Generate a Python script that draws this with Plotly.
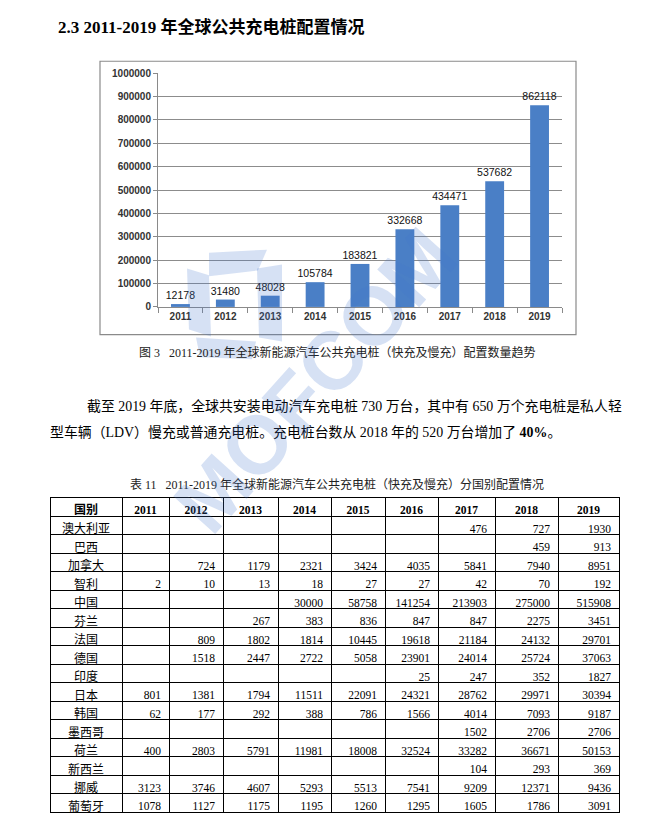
import plotly.graph_objects as go

# ---------------- data ----------------
years = ["2011", "2012", "2013", "2014", "2015", "2016", "2017", "2018", "2019"]
totals = [12178, 31480, 48028, 105784, 183821, 332668, 434471, 537682, 862118]
y_ticks = [0, 100000, 200000, 300000, 400000, 500000, 600000, 700000, 800000, 900000, 1000000]

table_header = ["国别", "2011", "2012", "2013", "2014", "2015", "2016", "2017", "2018", "2019"]
countries = ["澳大利亚", "巴西", "加拿大", "智利", "中国", "芬兰", "法国", "德国",
             "印度", "日本", "韩国", "墨西哥", "荷兰", "新西兰", "挪威", "葡萄牙"]
c2011 = [None, None, None, 2, None, None, None, None, None, 801, 62, None, 400, None, 3123, 1078]
c2012 = [None, None, 724, 10, None, None, 809, 1518, None, 1381, 177, None, 2803, None, 3746, 1127]
c2013 = [None, None, 1179, 13, None, 267, 1802, 2447, None, 1794, 292, None, 5791, None, 4607, 1175]
c2014 = [None, None, 2321, 18, 30000, 383, 1814, 2722, None, 11511, 388, None, 11981, None, 5293, 1195]
c2015 = [None, None, 3424, 27, 58758, 836, 10445, 5058, None, 22091, 786, None, 18008, None, 5513, 1260]
c2016 = [None, None, 4035, 27, 141254, 847, 19618, 23901, 25, 24321, 1566, None, 32524, None, 7541, 1295]
c2017 = [476, None, 5841, 42, 213903, 847, 21184, 24014, 247, 28762, 4014, 1502, 33282, 104, 9209, 1605]
c2018 = [727, 459, 7940, 70, 275000, 2275, 24132, 25724, 352, 29971, 7093, 2706, 36671, 293, 12371, 1786]
c2019 = [1930, 913, 8951, 192, 515908, 3451, 29701, 37063, 1827, 30394, 9187, 2706, 50153, 369, 9436, 3091]

heading = "2.3 2011-2019 年全球公共充电桩配置情况"
fig_caption = "图 3\u00a0\u00a0 2011-2019 年全球新能源汽车公共充电桩（快充及慢充）配置数量趋势"
para_line1 = "截至 2019 年底，全球共安装电动汽车充电桩 730 万台，其中有 650 万个充电桩是私人轻"
para_line2 = "型车辆（LDV）慢充或普通充电桩。充电桩台数从 2018 年的 520 万台增加了 <b>40%</b>。"
table_caption = "表 11\u00a0\u00a0 2011-2019 年全球新能源汽车公共充电桩（快充及慢充）分国别配置情况"
watermark = "MOFCOM"

# ---------------- figure ----------------
W, H = 672, 822


def px(x):
    return x / W


def py(y):
    return 1 - y / H


SERIF = "Liberation Serif, Noto Sans CJK SC"
SANS = "Liberation Sans, Noto Sans CJK SC"
WM = "rgba(70,120,205,0.22)"

fig = go.Figure()

fig.add_trace(go.Bar(
    x=years, y=totals, width=0.42,
    marker=dict(color="#4A7FC6", line=dict(width=0)),
    text=[str(v) for v in totals], textposition="outside", constraintext="none",
    textfont=dict(family=SANS, size=10.5, color="#111111"),
    cliponaxis=False, showlegend=False, hoverinfo="skip",
))


def fmt(col):
    return ["" if v is None else str(v) for v in col]


cols = [c2011, c2012, c2013, c2014, c2015, c2016, c2017, c2018, c2019]
fig.add_trace(go.Table(
    domain=dict(x=[px(50), px(619)], y=[py(822), py(498)]),
    columnwidth=[72, 47, 54, 55, 53, 54, 53, 57, 63, 61],
    header=dict(
        values=table_header,
        height=19, align="center",
        line=dict(color="black", width=1), fill=dict(color="white"),
        font=dict(family=SERIF, size=[12] + [11.5] * 9, color="black", weight="bold"),
    ),
    cells=dict(
        values=[countries] + [fmt(c) for c in cols],
        height=18.5, align=["center"] + ["right"] * 9,
        line=dict(color="black", width=1), fill=dict(color="white"),
        font=dict(family=SERIF, size=[12] + [11.5] * 9, color="black"),
    ),
))

annotations = [
    dict(text="<b>" + heading + "</b>", x=px(56), y=py(21), xanchor="left", yanchor="middle",
         font=dict(family=SERIF, size=17, color="black")),
    dict(text=fig_caption, x=px(337), y=py(351), xanchor="center", yanchor="middle",
         font=dict(family=SERIF, size=12, color="#222222")),
    dict(text=para_line1, x=px(85), y=py(405), xanchor="left", yanchor="middle",
         font=dict(family=SERIF, size=13.9, color="black")),
    dict(text=para_line2, x=px(48), y=py(432), xanchor="left", yanchor="middle",
         font=dict(family=SERIF, size=13.9, color="black")),
    dict(text=table_caption, x=px(337), y=py(485), xanchor="center", yanchor="middle",
         font=dict(family=SERIF, size=12, color="#222222")),
    # watermark
    dict(text="<b>" + watermark + "</b>", x=px(315), y=py(380), xanchor="center", yanchor="middle",
         textangle=-48, font=dict(family="Liberation Sans", size=82, color=WM)),
]
for a in annotations:
    a.update(xref="paper", yref="paper", showarrow=False)


def poly(points):
    return "M " + " L ".join("%.4f %.4f" % (px(x), py(y)) for x, y in points) + " Z"


logo_parts = [
    [(209, 250), (267, 247), (258, 268), (209, 274)],
    [(187, 266), (209, 273), (211, 335), (189, 328)],
    [(257, 266), (282, 262), (282, 340), (259, 336)],
    [(196, 336), (256, 340), (252, 358), (200, 356)],
]

shapes = [dict(type="rect", xref="paper", yref="paper",
               x0=px(100), x1=px(576), y0=py(333), y1=py(56),
               line=dict(color="#8a8a8a", width=1.2), fillcolor="rgba(0,0,0,0)", layer="below")]
for part in logo_parts:
    shapes.append(dict(type="path", xref="paper", yref="paper", path=poly(part),
                       fillcolor=WM, line=dict(width=0), layer="above"))

fig.update_layout(
    width=W, height=H,
    margin=dict(l=0, r=0, t=0, b=0),
    paper_bgcolor="white", plot_bgcolor="white",
    showlegend=False,
    annotations=annotations,
    shapes=shapes,
    xaxis=dict(
        domain=[px(158), px(562)], type="category",
        showline=True, linecolor="#8a8a8a", linewidth=1,
        ticks="outside", tickson="boundaries", ticklen=5, tickcolor="#8a8a8a",
        tickfont=dict(family=SANS, size=10, color="#333333", weight="bold"),
        showgrid=False, fixedrange=True,
    ),
    yaxis=dict(
        domain=[py(305), py(68)], range=[0, 1000000],
        tickvals=y_ticks, ticktext=[str(v) for v in y_ticks],
        showgrid=True, gridcolor="#8c8c8c", gridwidth=1,
        showline=True, linecolor="#8a8a8a", linewidth=1,
        ticks="outside", ticklen=4, tickcolor="#8a8a8a",
        tickfont=dict(family=SANS, size=10, color="#333333", weight="bold"),
        zeroline=False, fixedrange=True,
    ),
)

fig.write_html("out.html", config={"displayModeBar": False},
               post_script="document.body.style.margin='0px';document.body.style.overflow='hidden';")
